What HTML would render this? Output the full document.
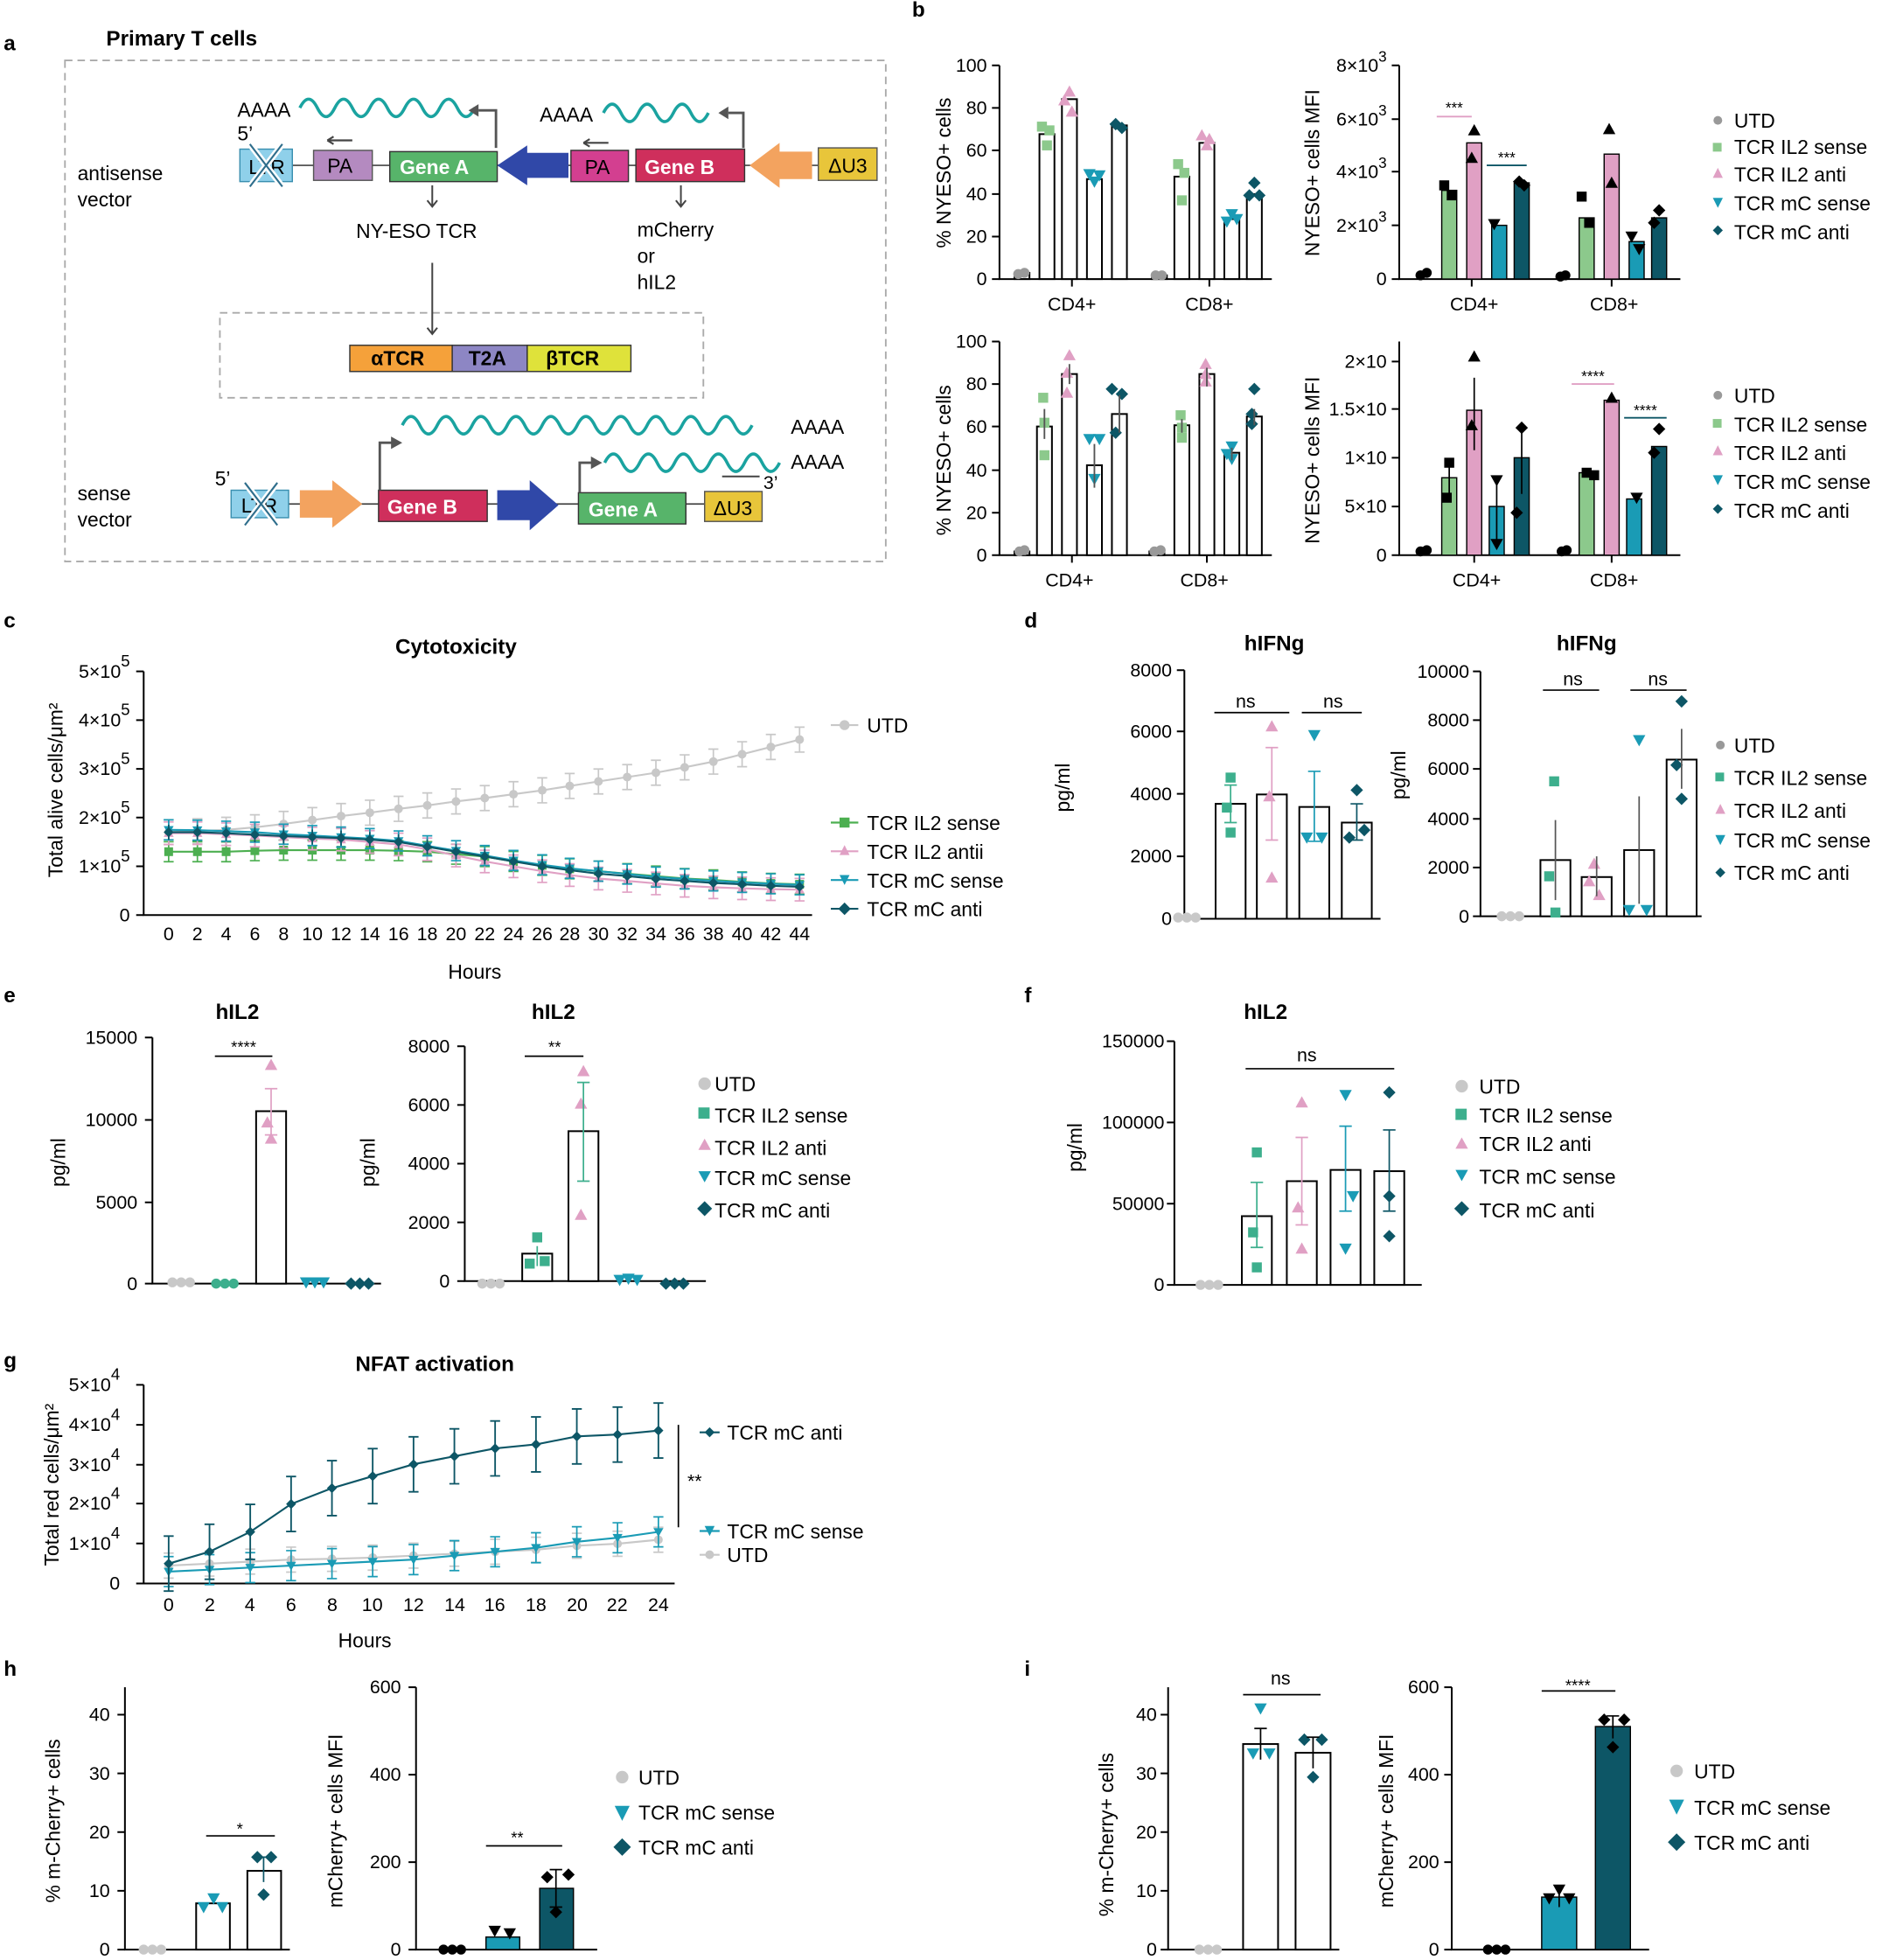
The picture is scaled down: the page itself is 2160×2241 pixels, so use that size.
<!DOCTYPE html>
<html><head><meta charset="utf-8"><style>
html,body{margin:0;padding:0;background:#fff}
svg{display:block}
text{font-family:"Liberation Sans",sans-serif;fill:#000}
.t{font-size:15px}
.tk{font-size:15px;text-anchor:end}
.L{font-size:16px}
.P{font-size:17px;font-weight:bold}
.H{font-size:17px;font-weight:bold;text-anchor:middle}
.ax{stroke:#000;stroke-width:1.4;fill:none}
.br{fill:#fff;stroke:#000;stroke-width:1.4}
.w{fill:#fff;font-size:16px;font-weight:bold}
</style></head><body>
<svg width="2160" height="2241" viewBox="0 0 1512 1568" xmlns="http://www.w3.org/2000/svg">
<defs>
<symbol id="c" overflow="visible"><circle cx="0" cy="0" r="4"/></symbol>
<symbol id="s" overflow="visible"><rect x="-4" y="-4" width="8" height="8"/></symbol>
<symbol id="u" overflow="visible"><polygon points="0,-5 5,4 -5,4"/></symbol>
<symbol id="d" overflow="visible"><polygon points="0,4 5,-5 -5,-5"/></symbol>
<symbol id="m" overflow="visible"><polygon points="0,-5 5,0 0,5 -5,0"/></symbol>
<marker id="mg" markerUnits="userSpaceOnUse" markerWidth="20" markerHeight="40" refX="10" refY="20" overflow="visible"><path d="M10,10V30M6,10H14M6,30H14" stroke="#c8c8c8" stroke-width="1.2"/><circle cx="10" cy="20" r="3.5" fill="#c8c8c8"/></marker>
<marker id="mgr" markerUnits="userSpaceOnUse" markerWidth="20" markerHeight="40" refX="10" refY="20" overflow="visible"><path d="M10,12V28M6,12H14M6,28H14" stroke="#4caf50" stroke-width="1.2"/><rect x="6.5" y="16.5" width="7" height="7" fill="#4caf50"/></marker>
<marker id="mpk" markerUnits="userSpaceOnUse" markerWidth="20" markerHeight="40" refX="10" refY="20" overflow="visible"><path d="M10,11V29M6,11H14M6,29H14" stroke="#e0a0c4" stroke-width="1.2"/><polygon points="10,16 14,23 6,23" fill="#e0a0c4"/></marker>
<marker id="mtl" markerUnits="userSpaceOnUse" markerWidth="20" markerHeight="40" refX="10" refY="20" overflow="visible"><path d="M10,12V28M6,12H14M6,28H14" stroke="#1a9bb5" stroke-width="1.2"/><polygon points="10,24 14,17 6,17" fill="#1a9bb5"/></marker>
<marker id="mdk" markerUnits="userSpaceOnUse" markerWidth="20" markerHeight="40" refX="10" refY="20" overflow="visible"><path d="M10,14V26" stroke="#0d5666" stroke-width="1.2"/><polygon points="10,16 14,20 10,24 6,20" fill="#0d5666"/></marker>
<marker id="mdk2" markerUnits="userSpaceOnUse" markerWidth="20" markerHeight="80" refX="10" refY="40" overflow="visible"><path d="M10,18V62M6,18H14M6,62H14" stroke="#0d5666" stroke-width="1.3"/><polygon points="10,36 14,40 10,44 6,40" fill="#0d5666"/></marker>
<marker id="mtl2" markerUnits="userSpaceOnUse" markerWidth="20" markerHeight="40" refX="10" refY="20" overflow="visible"><path d="M10,8V32M6,8H14M6,32H14" stroke="#1a9bb5" stroke-width="1.2"/><polygon points="10,24 14,17 6,17" fill="#1a9bb5"/></marker>
<marker id="mg2" markerUnits="userSpaceOnUse" markerWidth="20" markerHeight="40" refX="10" refY="20" overflow="visible"><path d="M10,10V30M6,10H14M6,30H14" stroke="#c8c8c8" stroke-width="1.2"/><circle cx="10" cy="20" r="3.5" fill="#c8c8c8"/></marker>
</defs>

<!-- ===== Panel a ===== -->
<text x="3" y="40" class="P">a</text>
<text x="85" y="36" class="P">Primary T cells</text>
<rect x="52" y="48" width="657" height="401" fill="none" stroke="#aaa" stroke-dasharray="6,4" stroke-width="1.3"/>
<rect x="176" y="250" width="387" height="68" fill="none" stroke="#aaa" stroke-dasharray="6,4" stroke-width="1.3"/>
<text x="62" y="144" class="L">antisense</text><text x="62" y="165" class="L">vector</text>
<line x1="234" y1="132" x2="655" y2="132" stroke="#444" stroke-width="1.2"/>
<rect x="192" y="119" width="42" height="26" fill="#8fd0ea" stroke="#3a8fb0"/>
<text x="199" y="139" class="L" fill="#333">LTR</text>
<path d="M200,115L226,149M226,115L200,149" stroke="#fff" stroke-width="5"/><path d="M200,115L226,149M226,115L200,149" stroke="#2f6e8c" stroke-width="1.5"/>
<rect x="251" y="120" width="47" height="24" fill="#b48ac0" stroke="#555"/><text x="262" y="138" class="L">PA</text>
<rect x="312" y="121" width="86" height="24" fill="#57b46a" stroke="#333"/><text x="320" y="139" class="w">Gene A</text>
<polygon points="398,132 422,116 422,122 455,122 455,142 422,142 422,148" fill="#3048a8"/>
<rect x="457" y="120" width="46" height="25" fill="#d33f90" stroke="#333"/><text x="468" y="139" class="L">PA</text>
<rect x="509" y="119" width="87" height="26" fill="#cf2f5c" stroke="#333"/><text x="516" y="139" class="w">Gene B</text>
<polygon points="600,132 624,114 624,121 650,121 650,143 624,143 624,150" fill="#f3a35f"/>
<rect x="655" y="118" width="47" height="26" fill="#e8c53a" stroke="#555"/><text x="663" y="138" class="L">ΔU3</text>
<text x="190" y="93" class="L" fill="#777">AAAA</text>
<path d="M240,86 q7,-14 14,0 t14,0 t14,0 t14,0 t14,0 t14,0 t14,0 t14,0 t14,0 t14,0" fill="none" stroke="#1aa3a0" stroke-width="2.5"/>
<path d="M383,88h14v30" fill="none" stroke="#555" stroke-width="2"/><polygon points="383,83 375,88 383,93" fill="#555"/>
<text x="432" y="97" class="L" fill="#777">AAAA</text>
<path d="M483,90 q7,-14 14,0 t14,0 t14,0 t14,0 t14,0 t14,0" fill="none" stroke="#1aa3a0" stroke-width="2.5"/>
<path d="M583,90h12v28" fill="none" stroke="#555" stroke-width="2"/><polygon points="583,85 575,90 583,95" fill="#555"/>
<text x="190" y="112" class="L" fill="#555">5’</text>
<path d="M262,112h20M262,112l5,-3M262,112l5,3" stroke="#444" stroke-width="1.5"/>
<path d="M467,114h20M467,114l5,-3M467,114l5,3" stroke="#444" stroke-width="1.5"/>
<path d="M346,148v16M342,160l4,5l4,-5" stroke="#444" fill="none" stroke-width="1.4"/>
<path d="M545,148v16M541,160l4,5l4,-5" stroke="#444" fill="none" stroke-width="1.4"/>
<text x="285" y="190" class="L">NY-ESO TCR</text>
<text x="510" y="189" class="L">mCherry</text><text x="510" y="210" class="L">or</text><text x="510" y="231" class="L">hIL2</text>
<path d="M346,210v56M342,262l4,5l4,-5" stroke="#444" fill="none" stroke-width="1.4"/>
<rect x="280" y="276" width="82" height="21" fill="#f5a13a" stroke="#333"/><text x="297" y="292" class="L" font-weight="bold">αTCR</text>
<rect x="362" y="276" width="60" height="21" fill="#8d86c4" stroke="#333"/><text x="375" y="292" class="L" font-weight="bold">T2A</text>
<rect x="422" y="276" width="83" height="21" fill="#dfe23a" stroke="#333"/><text x="437" y="292" class="L" font-weight="bold">βTCR</text>
<text x="62" y="400" class="L">sense</text><text x="62" y="421" class="L">vector</text>
<line x1="231" y1="403" x2="610" y2="403" stroke="#444" stroke-width="1.2"/>
<text x="172" y="388" class="L" fill="#555">5’</text>
<rect x="185" y="392" width="46" height="22" fill="#8fd0ea" stroke="#3a8fb0"/><text x="193" y="410" class="L" fill="#333">LTR</text>
<path d="M196,386L222,420M222,386L196,420" stroke="#fff" stroke-width="5"/><path d="M196,386L222,420M222,386L196,420" stroke="#2f6e8c" stroke-width="1.5"/>
<polygon points="240,392 266,392 266,384 290,403 266,422 266,414 240,414" fill="#f3a35f"/>
<rect x="303" y="392" width="87" height="25" fill="#cf2f5c" stroke="#333"/><text x="310" y="411" class="w">Gene B</text>
<polygon points="398,392 424,392 424,384 447,404 424,424 424,416 398,416" fill="#3048a8"/>
<rect x="463" y="394" width="86" height="25" fill="#57b46a" stroke="#333"/><text x="471" y="413" class="w">Gene A</text>
<rect x="564" y="393" width="46" height="24" fill="#e8c53a" stroke="#555"/><text x="571" y="412" class="L">ΔU3</text>
<path d="M304,392v-38h10" fill="none" stroke="#555" stroke-width="2"/><polygon points="313,349 322,354 313,359" fill="#555"/>
<path d="M322,340 q7,-14 14,0 t14,0 t14,0 t14,0 t14,0 t14,0 t14,0 t14,0 t14,0 t14,0 t14,0 t14,0 t14,0 t14,0 t14,0 t14,0 t14,0 t14,0 t14,0 t14,0" fill="none" stroke="#1aa3a0" stroke-width="2.5"/>
<text x="633" y="347" class="L" fill="#777">AAAA</text>
<path d="M464,394v-24h10" fill="none" stroke="#555" stroke-width="2"/><polygon points="473,365 482,370 473,375" fill="#555"/>
<path d="M484,370 q7,-14 14,0 t14,0 t14,0 t14,0 t14,0 t14,0 t14,0 t14,0 t14,0 t14,0" fill="none" stroke="#1aa3a0" stroke-width="2.5"/>
<text x="633" y="375" class="L" fill="#777">AAAA</text>
<line x1="578" y1="381" x2="608" y2="381" stroke="#444" stroke-width="1.4"/>
<text x="611" y="391" class="t" fill="#555">3’</text>

<!-- ===== Panel b ===== -->
<text x="730" y="13" class="P">b</text>
<g>
<path d="M800,52V223H1018" class="ax"/>
<path d="M794,223H800M794,189H800M794,155H800M794,120H800M794,86H800M794,52H800M858,223v6M968,223v6" class="ax"/>
<text x="790" y="228" class="tk">0</text><text x="790" y="194" class="tk">20</text><text x="790" y="160" class="tk">40</text><text x="790" y="125" class="tk">60</text><text x="790" y="91" class="tk">80</text><text x="790" y="57" class="tk">100</text>
<text transform="translate(761,138) rotate(-90)" class="L" text-anchor="middle">% NYESO+ cells</text>
<text x="858" y="248" class="t" text-anchor="middle">CD4+</text><text x="968" y="248" class="t" text-anchor="middle">CD8+</text>
<rect x="812" y="218" width="12" height="5" class="br"/>
<rect x="832" y="107" width="12" height="116" class="br"/>
<rect x="850" y="79" width="12" height="144" class="br"/>
<rect x="870" y="143" width="12" height="80" class="br"/>
<rect x="890" y="100" width="12" height="123" class="br"/>
<rect x="922" y="220" width="12" height="3" class="br"/>
<rect x="940" y="141" width="12" height="82" class="br"/>
<rect x="960" y="114" width="12" height="109" class="br"/>
<rect x="980" y="175" width="12" height="48" class="br"/>
<rect x="998" y="155" width="12" height="68" class="br"/>
<g fill="#999"><use href="#c" x="815" y="219"/><use href="#c" x="820" y="218"/><use href="#c" x="925" y="220"/><use href="#c" x="930" y="220"/></g>
<g fill="#8cc98c"><use href="#s" x="834" y="101"/><use href="#s" x="840" y="104"/><use href="#s" x="838" y="116"/><use href="#s" x="943" y="131"/><use href="#s" x="948" y="138"/><use href="#s" x="946" y="160"/></g>
<g fill="#e0a0c4"><use href="#u" x="856" y="73"/><use href="#u" x="852" y="80"/><use href="#u" x="858" y="89"/><use href="#u" x="962" y="108"/><use href="#u" x="968" y="111"/><use href="#u" x="966" y="116"/></g>
<g fill="#1a9bb5"><use href="#d" x="872" y="140"/><use href="#d" x="876" y="146"/><use href="#d" x="880" y="141"/><use href="#d" x="986" y="172"/><use href="#d" x="982" y="178"/><use href="#d" x="990" y="176"/></g>
<g fill="#0d5666"><use href="#m" x="893" y="99"/><use href="#m" x="898" y="102"/><use href="#m" x="1004" y="146"/><use href="#m" x="1000" y="156"/><use href="#m" x="1008" y="156"/></g>
</g>
<g>
<path d="M1120,52V223H1345" class="ax"/>
<path d="M1114,223H1120M1114,180H1120M1114,137H1120M1114,95H1120M1114,52H1120M1178,223v6M1290,223v6" class="ax"/>
<text x="1110" y="228" class="tk">0</text><text x="1110" y="185" class="tk">2×10<tspan dy="-8" font-size="12">3</tspan></text><text x="1110" y="142" class="tk">4×10<tspan dy="-8" font-size="12">3</tspan></text><text x="1110" y="100" class="tk">6×10<tspan dy="-8" font-size="12">3</tspan></text><text x="1110" y="57" class="tk">8×10<tspan dy="-8" font-size="12">3</tspan></text>
<text transform="translate(1056,138) rotate(-90)" class="L" text-anchor="middle">NYESO+ cells MFI</text>
<text x="1180" y="248" class="t" text-anchor="middle">CD4+</text><text x="1292" y="248" class="t" text-anchor="middle">CD8+</text>
<rect x="1154" y="152" width="12" height="71" fill="#8cc98c" stroke="#000"/>
<rect x="1174" y="114" width="12" height="109" fill="#e0a0c4" stroke="#000"/>
<rect x="1194" y="180" width="12" height="43" fill="#1a9bb5" stroke="#000"/>
<rect x="1212" y="146" width="12" height="77" fill="#0d5666" stroke="#000"/>
<rect x="1264" y="174" width="12" height="49" fill="#8cc98c" stroke="#000"/>
<rect x="1284" y="123" width="12" height="100" fill="#e0a0c4" stroke="#000"/>
<rect x="1304" y="193" width="12" height="30" fill="#1a9bb5" stroke="#000"/>
<rect x="1322" y="174" width="12" height="49" fill="#0d5666" stroke="#000"/>
<g fill="#000"><use href="#c" x="1137" y="220"/><use href="#c" x="1142" y="218"/><use href="#c" x="1249" y="221"/><use href="#c" x="1253" y="220"/>
<use href="#s" x="1156" y="148"/><use href="#s" x="1162" y="156"/><use href="#u" x="1180" y="104"/><use href="#u" x="1178" y="126"/><use href="#d" x="1196" y="180"/><use href="#m" x="1216" y="145"/><use href="#m" x="1220" y="148"/>
<use href="#s" x="1266" y="157"/><use href="#s" x="1272" y="178"/><use href="#u" x="1288" y="103"/><use href="#u" x="1290" y="146"/><use href="#d" x="1306" y="190"/><use href="#d" x="1312" y="200"/><use href="#m" x="1328" y="168"/><use href="#m" x="1324" y="178"/></g>
<path d="M1150,93H1178" stroke="#e0a0c4" stroke-width="1.3"/><text x="1164" y="90" font-size="12" fill="#e0a0c4" text-anchor="middle">***</text>
<path d="M1190,132H1222" stroke="#0d5666" stroke-width="1.3"/><text x="1206" y="130" font-size="12" fill="#0d5666" text-anchor="middle">***</text>
</g>
<g class="L"><circle cx="1375" cy="96" r="3.5" fill="#999"/><text x="1388" y="102">UTD</text>
<rect x="1371" y="114" width="7" height="7" fill="#8cc98c"/><text x="1388" y="123">TCR IL2 sense</text>
<polygon points="1375,134 1379,142 1371,142" fill="#e0a0c4"/><text x="1388" y="145">TCR IL2 anti</text>
<polygon points="1375,166 1379,158 1371,158" fill="#1a9bb5"/><text x="1388" y="168">TCR mC sense</text>
<polygon points="1375,180 1379,184 1375,188 1371,184" fill="#0d5666"/><text x="1388" y="191">TCR mC anti</text></g>
<g>
<path d="M800,273V444H1018" class="ax"/>
<path d="M794,444H800M794,410H800M794,376H800M794,341H800M794,307H800M794,273H800M858,444v6M966,444v6" class="ax"/>
<text x="790" y="449" class="tk">0</text><text x="790" y="415" class="tk">20</text><text x="790" y="381" class="tk">40</text><text x="790" y="346" class="tk">60</text><text x="790" y="312" class="tk">80</text><text x="790" y="278" class="tk">100</text>
<text transform="translate(761,368) rotate(-90)" class="L" text-anchor="middle">% NYESO+ cells</text>
<text x="856" y="469" class="t" text-anchor="middle">CD4+</text><text x="964" y="469" class="t" text-anchor="middle">CD8+</text>
<rect x="812" y="441" width="12" height="3" class="br"/>
<rect x="830" y="341" width="12" height="103" class="br"/>
<rect x="850" y="299" width="12" height="145" class="br"/>
<rect x="870" y="372" width="12" height="72" class="br"/>
<rect x="890" y="331" width="12" height="113" class="br"/>
<rect x="920" y="441" width="12" height="3" class="br"/>
<rect x="940" y="340" width="12" height="104" class="br"/>
<rect x="960" y="299" width="12" height="145" class="br"/>
<rect x="980" y="362" width="12" height="82" class="br"/>
<rect x="998" y="333" width="12" height="111" class="br"/>
<g fill="#999"><use href="#c" x="816" y="441"/><use href="#c" x="820" y="440"/><use href="#c" x="924" y="441"/><use href="#c" x="929" y="440"/></g>
<g fill="#8cc98c"><use href="#s" x="835" y="318"/><use href="#s" x="836" y="338"/><use href="#s" x="836" y="364"/><use href="#s" x="945" y="332"/><use href="#s" x="946" y="342"/><use href="#s" x="946" y="350"/></g>
<g fill="#e0a0c4"><use href="#u" x="856" y="284"/><use href="#u" x="854" y="298"/><use href="#u" x="854" y="314"/><use href="#u" x="965" y="291"/><use href="#u" x="965" y="299"/><use href="#u" x="965" y="305"/></g>
<g fill="#1a9bb5"><use href="#d" x="872" y="352"/><use href="#d" x="880" y="352"/><use href="#d" x="876" y="384"/><use href="#d" x="982" y="364"/><use href="#d" x="986" y="368"/><use href="#d" x="986" y="358"/></g>
<g fill="#0d5666"><use href="#m" x="890" y="311"/><use href="#m" x="898" y="315"/><use href="#m" x="893" y="346"/><use href="#m" x="1004" y="311"/><use href="#m" x="1002" y="331"/><use href="#m" x="1002" y="339"/></g>
<path d="M836,327V351M856,291V307M876,355V390M896,316V346M946,335V346M966,294V309M986,358V368M1004,327V340" stroke="#555" stroke-width="1.3"/>
</g>
<g>
<path d="M1120,273V444H1345" class="ax"/>
<path d="M1114,444H1120M1114,405H1120M1114,366H1120M1114,327H1120M1114,289H1120M1180,444v6M1290,444v6" class="ax"/>
<text x="1110" y="449" class="tk">0</text><text x="1110" y="410" class="tk">5×10</text><text x="1110" y="371" class="tk">1×10</text><text x="1110" y="332" class="tk">1.5×10</text><text x="1110" y="294" class="tk">2×10</text>
<text transform="translate(1056,368) rotate(-90)" class="L" text-anchor="middle">NYESO+ cells MFI</text>
<text x="1182" y="469" class="t" text-anchor="middle">CD4+</text><text x="1292" y="469" class="t" text-anchor="middle">CD8+</text>
<rect x="1154" y="382" width="12" height="62" fill="#8cc98c" stroke="#000"/>
<rect x="1174" y="328" width="12" height="116" fill="#e0a0c4" stroke="#000"/>
<rect x="1192" y="405" width="12" height="39" fill="#1a9bb5" stroke="#000"/>
<rect x="1212" y="366" width="12" height="78" fill="#0d5666" stroke="#000"/>
<rect x="1264" y="378" width="12" height="66" fill="#8cc98c" stroke="#000"/>
<rect x="1284" y="320" width="12" height="124" fill="#e0a0c4" stroke="#000"/>
<rect x="1302" y="399" width="12" height="45" fill="#1a9bb5" stroke="#000"/>
<rect x="1322" y="357" width="12" height="87" fill="#0d5666" stroke="#000"/>
<g fill="#000"><use href="#c" x="1137" y="441"/><use href="#c" x="1142" y="440"/><use href="#c" x="1250" y="441"/><use href="#c" x="1254" y="440"/>
<use href="#s" x="1160" y="370"/><use href="#s" x="1158" y="398"/><use href="#u" x="1180" y="285"/><use href="#u" x="1178" y="340"/><use href="#d" x="1198" y="385"/><use href="#d" x="1198" y="436"/><use href="#m" x="1218" y="342"/><use href="#m" x="1214" y="410"/>
<use href="#s" x="1270" y="378"/><use href="#s" x="1276" y="380"/><use href="#u" x="1290" y="318"/><use href="#d" x="1310" y="399"/><use href="#m" x="1328" y="343"/><use href="#m" x="1324" y="362"/></g>
<path d="M1180,302V360M1218,345V395M1198,388V432M1160,370V395" stroke="#000" stroke-width="1.2"/>
<path d="M1258,307H1292" stroke="#e0a0c4" stroke-width="1.3"/><text x="1275" y="305" font-size="12" fill="#e0a0c4" text-anchor="middle">****</text>
<path d="M1300,334H1334" stroke="#0d5666" stroke-width="1.3"/><text x="1317" y="332" font-size="12" fill="#0d5666" text-anchor="middle">****</text>
</g>
<g class="L"><circle cx="1375" cy="316" r="3.5" fill="#999"/><text x="1388" y="322">UTD</text>
<rect x="1371" y="335" width="7" height="7" fill="#8cc98c"/><text x="1388" y="345">TCR IL2 sense</text>
<polygon points="1375,356 1379,364 1371,364" fill="#e0a0c4"/><text x="1388" y="368">TCR IL2 anti</text>
<polygon points="1375,388 1379,380 1371,380" fill="#1a9bb5"/><text x="1388" y="391">TCR mC sense</text>
<polygon points="1375,403 1379,407 1375,411 1371,407" fill="#0d5666"/><text x="1388" y="414">TCR mC anti</text></g>

<!-- ===== Panel c ===== -->
<text x="3" y="502" class="P">c</text>
<text x="365" y="523" class="H">Cytotoxicity</text>
<path d="M115,537V732H650" class="ax"/>
<path d="M109,732H115M109,693H115M109,654H115M109,615H115M109,576H115M109,537H115" class="ax"/>
<text x="104" y="737" class="tk">0</text>
<text x="104" y="698" class="tk">1×10<tspan dy="-9" font-size="13">5</tspan></text>
<text x="104" y="659" class="tk">2×10<tspan dy="-9" font-size="13">5</tspan></text>
<text x="104" y="620" class="tk">3×10<tspan dy="-9" font-size="13">5</tspan></text>
<text x="104" y="581" class="tk">4×10<tspan dy="-9" font-size="13">5</tspan></text>
<text x="104" y="542" class="tk">5×10<tspan dy="-9" font-size="13">5</tspan></text>
<text transform="translate(50,632) rotate(-90)" class="L" text-anchor="middle">Total alive cells/μm²</text>
<g class="t" text-anchor="middle"><text x="135" y="752">0</text><text x="158" y="752">2</text><text x="181" y="752">4</text><text x="204" y="752">6</text><text x="227" y="752">8</text><text x="250" y="752">10</text><text x="273" y="752">12</text><text x="296" y="752">14</text><text x="319" y="752">16</text><text x="342" y="752">18</text><text x="365" y="752">20</text><text x="388" y="752">22</text><text x="411" y="752">24</text><text x="434" y="752">26</text><text x="456" y="752">28</text><text x="479" y="752">30</text><text x="502" y="752">32</text><text x="525" y="752">34</text><text x="548" y="752">36</text><text x="571" y="752">38</text><text x="594" y="752">40</text><text x="617" y="752">42</text><text x="640" y="752">44</text></g>
<text x="380" y="783" class="L" text-anchor="middle">Hours</text>
<polyline fill="none" stroke="#c8c8c8" stroke-width="1.5" marker-start="url(#mg)" marker-mid="url(#mg)" marker-end="url(#mg)" points="135,665.7 158,664.9 181,663.8 204,661.8 227,659.1 250,656 273,652.8 296,650.1 319,647 342,644.3 365,641.1 388,638.4 411,635.3 434,632.2 456,628.7 479,625.1 502,621.6 525,618.1 548,613.8 571,609.2 594,603.3 617,597.5 640,591.6"/>
<polyline fill="none" stroke="#4caf50" stroke-width="1.5" marker-start="url(#mgr)" marker-mid="url(#mgr)" marker-end="url(#mgr)" points="135,681.3 158,681.3 181,681.3 204,680.5 227,680.1 250,680.1 273,680.1 296,680.1 319,680.5 342,681.3 365,683.3 388,685.2 411,689.1 434,692.2 456,695 479,696.9 502,698.9 525,700.8 548,702.8 571,703.9 594,705.5 617,706.7 640,707.4"/>
<polyline fill="none" stroke="#e0a0c4" stroke-width="1.5" marker-start="url(#mpk)" marker-mid="url(#mpk)" marker-end="url(#mpk)" points="135,666.5 158,666.5 181,667.3 204,668.4 227,669.6 250,670.8 273,671.6 296,673.5 319,675.5 342,679.4 365,684.4 388,689.1 411,693 434,696.9 456,700 479,702.8 502,704.7 525,706.7 548,708.6 571,709.8 594,710.6 617,711.3 640,711.7"/>
<polyline fill="none" stroke="#1a9bb5" stroke-width="1.5" marker-start="url(#mtl)" marker-mid="url(#mtl)" marker-end="url(#mtl)" points="135,663.8 158,664.1 181,664.9 204,665.7 227,667.3 250,668.4 273,669.6 296,670.8 319,672.7 342,676.6 365,680.5 388,684.4 411,688.3 434,691.8 456,694.6 479,696.9 502,699.2 525,701.6 548,703.1 571,704.7 594,705.9 617,707 640,707.8"/>
<polyline fill="none" stroke="#0d5666" stroke-width="1.5" marker-start="url(#mdk)" marker-mid="url(#mdk)" marker-end="url(#mdk)" points="135,665.7 158,665.7 181,666.5 204,667.7 227,668.8 250,669.6 273,670.4 296,671.6 319,673.5 342,677.4 365,681.3 388,685.2 411,689.1 434,693 456,696.1 479,698.9 502,700.8 525,703.1 548,704.7 571,706.3 594,707.4 617,708.6 640,709.4"/>
<g class="L">
<path d="M665,580h22" stroke="#c8c8c8" stroke-width="1.5"/><circle cx="676" cy="580" r="4" fill="#c8c8c8"/><text x="694" y="586">UTD</text>
<path d="M665,658h22" stroke="#4caf50" stroke-width="1.5"/><rect x="672" y="654" width="8" height="8" fill="#4caf50"/><text x="694" y="664">TCR IL2 sense</text>
<path d="M665,681h22" stroke="#e0a0c4" stroke-width="1.5"/><polygon points="676,676 680,684 672,684" fill="#e0a0c4"/><text x="694" y="687">TCR IL2 antii</text>
<path d="M665,704h22" stroke="#1a9bb5" stroke-width="1.5"/><polygon points="676,708 680,700 672,700" fill="#1a9bb5"/><text x="694" y="710">TCR mC sense</text>
<path d="M665,727h22" stroke="#0d5666" stroke-width="1.5"/><polygon points="676,722 681,727 676,732 671,727" fill="#0d5666"/><text x="694" y="733">TCR mC anti</text></g>

<!-- ===== Panel d ===== -->
<text x="820" y="502" class="P">d</text>
<text x="1020" y="520" class="H">hIFNg</text>
<path d="M948,536V735H1105" class="ax"/>
<path d="M942,735H948M942,685H948M942,635H948M942,585H948M942,536H948" class="ax"/>
<text x="938" y="740" class="tk">0</text><text x="938" y="690" class="tk">2000</text><text x="938" y="640" class="tk">4000</text><text x="938" y="590" class="tk">6000</text><text x="938" y="541" class="tk">8000</text>
<text transform="translate(856,630) rotate(-90)" class="L" text-anchor="middle">pg/ml</text>
<rect x="973" y="643" width="24" height="92" class="br"/>
<rect x="1006" y="635.5" width="24" height="99.5" class="br"/>
<rect x="1040" y="645.5" width="24" height="89.5" class="br"/>
<rect x="1074" y="658" width="24" height="77" class="br"/>
<g fill="#c8c8c8"><use href="#c" x="943" y="734"/><use href="#c" x="950" y="734"/><use href="#c" x="957" y="734"/></g>
<g fill="#3daf8d"><use href="#s" x="985" y="622"/><use href="#s" x="982" y="646"/><use href="#s" x="985" y="666"/></g>
<g fill="#e0a0c4"><use href="#u" x="1018" y="581"/><use href="#u" x="1016" y="637"/><use href="#u" x="1018" y="702"/></g>
<g fill="#1a9bb5"><use href="#d" x="1052" y="589"/><use href="#d" x="1046" y="671"/><use href="#d" x="1058" y="671"/></g>
<g fill="#0d5666"><use href="#m" x="1086" y="632"/><use href="#m" x="1080" y="670"/><use href="#m" x="1092" y="664"/></g>
<path d="M985,628V658M980,628H990M980,658H990" stroke="#3daf8d" stroke-width="1.2"/>
<path d="M1018,598V672M1013,598H1023M1013,672H1023" stroke="#e0a0c4" stroke-width="1.2"/>
<path d="M1052,617V673M1047,617H1057M1047,673H1057" stroke="#1a9bb5" stroke-width="1.2"/>
<path d="M1086,643V672M1081,643H1091M1081,672H1091" stroke="#0d5666" stroke-width="1.2"/>
<path d="M972,570H1032" stroke="#000" stroke-width="1.2"/><text x="997" y="566" class="t" fill="#e0a0c4" text-anchor="middle">ns</text>
<path d="M1042,570H1090" stroke="#000" stroke-width="1.2"/><text x="1067" y="566" class="t" fill="#0d5666" text-anchor="middle">ns</text>
<text x="1270" y="520" class="H">hIFNg</text>
<path d="M1185,537V733H1362" class="ax"/>
<path d="M1179,733H1185M1179,694H1185M1179,655H1185M1179,615H1185M1179,576H1185M1179,537H1185" class="ax"/>
<text x="1176" y="738" class="tk">0</text><text x="1176" y="699" class="tk">2000</text><text x="1176" y="660" class="tk">4000</text><text x="1176" y="620" class="tk">6000</text><text x="1176" y="581" class="tk">8000</text><text x="1176" y="542" class="tk">10000</text>
<text transform="translate(1125,620) rotate(-90)" class="L" text-anchor="middle">pg/ml</text>
<rect x="1233" y="688" width="24" height="45" class="br"/>
<rect x="1266" y="701.6" width="24" height="31.4" class="br"/>
<rect x="1300" y="680" width="24" height="53" class="br"/>
<rect x="1334" y="607.6" width="24" height="125.4" class="br"/>
<g fill="#c8c8c8"><use href="#c" x="1202" y="733"/><use href="#c" x="1209" y="733"/><use href="#c" x="1216" y="733"/></g>
<g fill="#3daf8d"><use href="#s" x="1244" y="625"/><use href="#s" x="1240" y="701"/><use href="#s" x="1245" y="730"/></g>
<g fill="#e0a0c4"><use href="#u" x="1276" y="691"/><use href="#u" x="1272" y="705"/><use href="#u" x="1280" y="716"/></g>
<g fill="#1a9bb5"><use href="#d" x="1312" y="593"/><use href="#d" x="1304" y="729"/><use href="#d" x="1318" y="729"/></g>
<g fill="#0d5666"><use href="#m" x="1346" y="561"/><use href="#m" x="1342" y="612"/><use href="#m" x="1346" y="639"/></g>
<path d="M1245,656V720M1278,685V717M1312,637V723M1346,583V631" stroke="#555" stroke-width="1.2"/>
<path d="M1235,552H1280" stroke="#000" stroke-width="1.2"/><text x="1259" y="548" class="t" fill="#e0a0c4" text-anchor="middle">ns</text>
<path d="M1305,552H1350" stroke="#000" stroke-width="1.2"/><text x="1327" y="548" class="t" fill="#0d5666" text-anchor="middle">ns</text>
<g class="L"><circle cx="1377" cy="596" r="3.5" fill="#999"/><text x="1388" y="602">UTD</text>
<rect x="1373" y="618" width="7" height="7" fill="#3daf8d"/><text x="1388" y="628">TCR IL2 sense</text>
<polygon points="1377,643 1381,651 1373,651" fill="#e0a0c4"/><text x="1388" y="654">TCR IL2 anti</text>
<polygon points="1377,676 1381,668 1373,668" fill="#1a9bb5"/><text x="1388" y="678">TCR mC sense</text>
<polygon points="1377,694 1381,698 1377,702 1373,698" fill="#0d5666"/><text x="1388" y="704">TCR mC anti</text></g>

<!-- ===== Panel e ===== -->
<text x="3" y="802" class="P">e</text>
<text x="190" y="815" class="H">hIL2</text>
<path d="M122,830V1027H305" class="ax"/>
<path d="M116,1027H122M116,962H122M116,896H122M116,830H122" class="ax"/>
<text x="110" y="1032" class="tk">0</text><text x="110" y="967" class="tk">5000</text><text x="110" y="901" class="tk">10000</text><text x="110" y="835" class="tk">15000</text>
<text transform="translate(52,930) rotate(-90)" class="L" text-anchor="middle">pg/ml</text>
<rect x="205" y="889" width="24" height="138" class="br"/>
<g fill="#c8c8c8"><use href="#c" x="138" y="1026"/><use href="#c" x="145" y="1026"/><use href="#c" x="152" y="1026"/></g>
<g fill="#3daf8d"><use href="#c" x="173" y="1027"/><use href="#c" x="180" y="1027"/><use href="#c" x="187" y="1027"/></g>
<g fill="#1a9bb5"><use href="#d" x="245" y="1027"/><use href="#d" x="252" y="1027"/><use href="#d" x="259" y="1027"/></g>
<g fill="#0d5666"><use href="#m" x="281" y="1027"/><use href="#m" x="288" y="1027"/><use href="#m" x="295" y="1027"/></g>
<g fill="#e0a0c4"><use href="#u" x="217" y="852"/><use href="#u" x="214" y="898"/><use href="#u" x="217" y="911"/></g>
<path d="M217,871V908M212,871H222M212,908H222" stroke="#e0a0c4" stroke-width="1.2"/>
<path d="M172,845H218" stroke="#000" stroke-width="1.2"/><text x="195" y="842" font-size="13" fill="#e0a0c4" text-anchor="middle">****</text>
<text x="443" y="815" class="H">hIL2</text>
<path d="M372,837V1025H565" class="ax"/>
<path d="M366,1025H372M366,978H372M366,931H372M366,884H372M366,837H372" class="ax"/>
<text x="360" y="1030" class="tk">0</text><text x="360" y="983" class="tk">2000</text><text x="360" y="936" class="tk">4000</text><text x="360" y="889" class="tk">6000</text><text x="360" y="842" class="tk">8000</text>
<text transform="translate(300,930) rotate(-90)" class="L" text-anchor="middle">pg/ml</text>
<rect x="418" y="1003" width="24" height="22" class="br"/>
<rect x="455" y="905" width="24" height="120" class="br"/>
<g fill="#c8c8c8"><use href="#c" x="386" y="1027"/><use href="#c" x="393" y="1027"/><use href="#c" x="400" y="1027"/></g>
<g fill="#3daf8d"><use href="#s" x="430" y="990"/><use href="#s" x="424" y="1011"/><use href="#s" x="436" y="1009"/></g>
<g fill="#e0a0c4"><use href="#u" x="467" y="857"/><use href="#u" x="465" y="883"/><use href="#u" x="465" y="972"/></g>
<g fill="#1a9bb5"><use href="#d" x="496" y="1025"/><use href="#d" x="503" y="1024"/><use href="#d" x="510" y="1025"/></g>
<g fill="#0d5666"><use href="#m" x="533" y="1027"/><use href="#m" x="540" y="1027"/><use href="#m" x="547" y="1027"/></g>
<path d="M430,997V1013M467,866V945M462,866H472M462,945H472" stroke="#3daf8d" stroke-width="1.2"/>
<path d="M420,845H467" stroke="#000" stroke-width="1.2"/><text x="444" y="842" font-size="13" fill="#e0a0c4" text-anchor="middle">**</text>
<g class="L"><circle cx="564" cy="867" r="5" fill="#c8c8c8"/><text x="572" y="873">UTD</text>
<rect x="559" y="886" width="9" height="9" fill="#3daf8d"/><text x="572" y="898">TCR IL2 sense</text>
<polygon points="564,911 569,920 559,920" fill="#e0a0c4"/><text x="572" y="924">TCR IL2 anti</text>
<polygon points="564,946 569,937 559,937" fill="#1a9bb5"/><text x="572" y="948">TCR mC sense</text>
<polygon points="564,961 570,967 564,973 558,967" fill="#0d5666"/><text x="572" y="974">TCR mC anti</text></g>

<!-- ===== Panel f ===== -->
<text x="820" y="802" class="P">f</text>
<text x="1013" y="815" class="H">hIL2</text>
<path d="M940,833V1028H1138" class="ax"/>
<path d="M934,1028H940M934,963H940M934,898H940M934,833H940" class="ax"/>
<text x="932" y="1033" class="tk">0</text><text x="932" y="968" class="tk">50000</text><text x="932" y="903" class="tk">100000</text><text x="932" y="838" class="tk">150000</text>
<text transform="translate(866,918) rotate(-90)" class="L" text-anchor="middle">pg/ml</text>
<rect x="994" y="973" width="24" height="55" class="br"/>
<rect x="1030" y="945" width="24" height="83" class="br"/>
<rect x="1065" y="936" width="24" height="92" class="br"/>
<rect x="1100" y="937" width="24" height="91" class="br"/>
<g fill="#c8c8c8"><use href="#c" x="961" y="1028"/><use href="#c" x="968" y="1028"/><use href="#c" x="975" y="1028"/></g>
<g fill="#3daf8d"><use href="#s" x="1006" y="922"/><use href="#s" x="1003" y="986"/><use href="#s" x="1006" y="1014"/></g>
<g fill="#e0a0c4"><use href="#u" x="1042" y="882"/><use href="#u" x="1039" y="966"/><use href="#u" x="1042" y="999"/></g>
<g fill="#1a9bb5"><use href="#d" x="1077" y="877"/><use href="#d" x="1083" y="958"/><use href="#d" x="1077" y="1000"/></g>
<g fill="#0d5666"><use href="#m" x="1112" y="874"/><use href="#m" x="1112" y="957"/><use href="#m" x="1112" y="989"/></g>
<path d="M1006,946V998M1001,946H1011M1001,998H1011" stroke="#3daf8d" stroke-width="1.2"/>
<path d="M1042,910V980M1037,910H1047M1037,980H1047" stroke="#e0a0c4" stroke-width="1.2"/>
<path d="M1077,901V969M1072,901H1082M1072,969H1082" stroke="#1a9bb5" stroke-width="1.2"/>
<path d="M1112,904V969M1107,904H1117M1107,969H1117" stroke="#0d5666" stroke-width="1.2"/>
<path d="M997,855H1116" stroke="#000" stroke-width="1.2"/><text x="1046" y="849" class="t" text-anchor="middle">ns</text>
<g class="L"><circle cx="1170" cy="869" r="5" fill="#c8c8c8"/><text x="1184" y="875">UTD</text>
<rect x="1165" y="887" width="9" height="9" fill="#3daf8d"/><text x="1184" y="898">TCR IL2 sense</text>
<polygon points="1170,910 1175,919 1165,919" fill="#e0a0c4"/><text x="1184" y="921">TCR IL2 anti</text>
<polygon points="1170,945 1175,936 1165,936" fill="#1a9bb5"/><text x="1184" y="947">TCR mC sense</text>
<polygon points="1170,961 1176,967 1170,973 1164,967" fill="#0d5666"/><text x="1184" y="974">TCR mC anti</text></g>

<!-- ===== Panel g ===== -->
<text x="3" y="1094" class="P">g</text>
<text x="348" y="1097" class="H">NFAT activation</text>
<path d="M115,1108V1267H540" class="ax"/>
<path d="M109,1267H115M109,1235H115M109,1203H115M109,1172H115M109,1140H115M109,1108H115" class="ax"/>
<text x="96" y="1272" class="tk">0</text>
<text x="96" y="1240" class="tk">1×10<tspan dy="-9" font-size="13">4</tspan></text>
<text x="96" y="1208" class="tk">2×10<tspan dy="-9" font-size="13">4</tspan></text>
<text x="96" y="1177" class="tk">3×10<tspan dy="-9" font-size="13">4</tspan></text>
<text x="96" y="1145" class="tk">4×10<tspan dy="-9" font-size="13">4</tspan></text>
<text x="96" y="1113" class="tk">5×10<tspan dy="-9" font-size="13">4</tspan></text>
<text transform="translate(47,1188) rotate(-90)" class="L" text-anchor="middle">Total red cells/μm²</text>
<g class="t" text-anchor="middle"><text x="135" y="1289">0</text><text x="168" y="1289">2</text><text x="200" y="1289">4</text><text x="233" y="1289">6</text><text x="266" y="1289">8</text><text x="298" y="1289">10</text><text x="331" y="1289">12</text><text x="364" y="1289">14</text><text x="396" y="1289">16</text><text x="429" y="1289">18</text><text x="462" y="1289">20</text><text x="494" y="1289">22</text><text x="527" y="1289">24</text></g>
<text x="292" y="1318" class="L" text-anchor="middle">Hours</text>
<polyline fill="none" stroke="#c8c8c8" stroke-width="1.5" marker-start="url(#mg2)" marker-mid="url(#mg2)" marker-end="url(#mg2)" points="135,1252.7 167.7,1251.1 200.3,1249.5 233,1247.9 265.7,1247.3 298.3,1246.3 331,1244.7 363.7,1243.2 396.3,1241.6 429,1240 461.7,1236.8 494.3,1235.2 527,1232"/>
<polyline fill="none" stroke="#1a9bb5" stroke-width="1.5" marker-start="url(#mtl2)" marker-mid="url(#mtl2)" marker-end="url(#mtl2)" points="135,1257.5 167.7,1255.9 200.3,1254.3 233,1252.7 265.7,1251.1 298.3,1249.5 331,1247.9 363.7,1244.7 396.3,1241.6 429,1238.4 461.7,1233.6 494.3,1230.4 527,1225.7"/>
<polyline fill="none" stroke="#0d5666" stroke-width="1.5" marker-start="url(#mdk2)" marker-mid="url(#mdk2)" marker-end="url(#mdk2)" points="135,1251.1 167.7,1241.6 200.3,1225.7 233,1203.4 265.7,1190.7 298.3,1181.1 331,1171.6 363.7,1165.2 396.3,1158.9 429,1155.7 461.7,1149.3 494.3,1147.8 527,1144.6"/>
<path d="M543,1140V1222" stroke="#000" stroke-width="1.2"/><text x="556" y="1190" class="t" fill="#0d5666" text-anchor="middle">**</text>
<g class="L">
<path d="M560,1146h16" stroke="#0d5666" stroke-width="1.5"/><polygon points="568,1142 572,1146 568,1150 564,1146" fill="#0d5666"/><text x="582" y="1152">TCR mC anti</text>
<path d="M560,1225h16" stroke="#1a9bb5" stroke-width="1.5"/><polygon points="568,1229 572,1221 564,1221" fill="#1a9bb5"/><text x="582" y="1231">TCR mC sense</text>
<path d="M560,1244h16" stroke="#c8c8c8" stroke-width="1.5"/><circle cx="568" cy="1244" r="3.5" fill="#c8c8c8"/><text x="582" y="1250">UTD</text></g>

<!-- ===== Panel h ===== -->
<text x="3" y="1341" class="P">h</text>
<path d="M100,1350V1560H232" class="ax"/>
<path d="M94,1560H100M94,1513H100M94,1466H100M94,1419H100M94,1372H100" class="ax"/>
<text x="88" y="1565" class="tk">0</text><text x="88" y="1518" class="tk">10</text><text x="88" y="1471" class="tk">20</text><text x="88" y="1424" class="tk">30</text><text x="88" y="1377" class="tk">40</text>
<text transform="translate(48,1457) rotate(-90)" class="L" text-anchor="middle">% m-Cherry+ cells</text>
<rect x="157" y="1523" width="27" height="37" class="br"/>
<rect x="198" y="1497" width="27" height="63" class="br"/>
<g fill="#c8c8c8"><use href="#c" x="115" y="1560"/><use href="#c" x="122" y="1560"/><use href="#c" x="129" y="1560"/></g>
<g fill="#1a9bb5"><use href="#d" x="163" y="1527"/><use href="#d" x="171" y="1520"/><use href="#d" x="178" y="1527"/></g>
<g fill="#0d5666"><use href="#m" x="206" y="1486"/><use href="#m" x="217" y="1486"/><use href="#m" x="211" y="1516"/></g>
<path d="M211,1486V1506M206,1486H216" stroke="#0d5666" stroke-width="1.2"/>
<path d="M165,1469H220" stroke="#000" stroke-width="1.2"/><text x="192" y="1468" font-size="13" fill="#0d5666" text-anchor="middle">*</text>
<path d="M333,1350V1560H478" class="ax"/>
<path d="M327,1560H333M327,1490H333M327,1420H333M327,1350H333" class="ax"/>
<text x="321" y="1565" class="tk">0</text><text x="321" y="1495" class="tk">200</text><text x="321" y="1425" class="tk">400</text><text x="321" y="1355" class="tk">600</text>
<text transform="translate(274,1457) rotate(-90)" class="L" text-anchor="middle">mCherry+ cells MFI</text>
<rect x="389" y="1550" width="27" height="10" fill="#1a9bb5" stroke="#000"/>
<rect x="432" y="1511" width="27" height="49" fill="#0d5666" stroke="#000"/>
<g fill="#000"><use href="#c" x="355" y="1560"/><use href="#c" x="362" y="1560"/><use href="#c" x="369" y="1560"/>
<use href="#d" x="396" y="1546"/><use href="#d" x="408" y="1548"/><use href="#m" x="438" y="1502"/><use href="#m" x="455" y="1500"/><use href="#m" x="445" y="1530"/></g>
<path d="M445,1496V1526M440,1496H450M440,1526H450" stroke="#000" stroke-width="1.2"/>
<path d="M389,1477H450" stroke="#000" stroke-width="1.2"/><text x="414" y="1475" font-size="13" fill="#0d5666" text-anchor="middle">**</text>
<g class="L"><circle cx="498" cy="1422" r="5" fill="#c8c8c8"/><text x="511" y="1428">UTD</text>
<polygon points="498,1457 504,1445 492,1445" fill="#1a9bb5"/><text x="511" y="1456">TCR mC sense</text>
<polygon points="498,1471 505,1478 498,1485 491,1478" fill="#0d5666"/><text x="511" y="1484">TCR mC anti</text></g>

<!-- ===== Panel i ===== -->
<text x="820" y="1341" class="P">i</text>
<path d="M935,1350V1560H1072" class="ax"/>
<path d="M929,1560H935M929,1513H935M929,1466H935M929,1419H935M929,1372H935" class="ax"/>
<text x="926" y="1565" class="tk">0</text><text x="926" y="1518" class="tk">10</text><text x="926" y="1471" class="tk">20</text><text x="926" y="1424" class="tk">30</text><text x="926" y="1377" class="tk">40</text>
<text transform="translate(891,1468) rotate(-90)" class="L" text-anchor="middle">% m-Cherry+ cells</text>
<rect x="995" y="1395.5" width="28" height="164.5" class="br"/>
<rect x="1037" y="1402.5" width="28" height="157.5" class="br"/>
<g fill="#c8c8c8"><use href="#c" x="960" y="1560"/><use href="#c" x="967" y="1560"/><use href="#c" x="974" y="1560"/></g>
<g fill="#1a9bb5"><use href="#d" x="1009" y="1368"/><use href="#d" x="1003" y="1404"/><use href="#d" x="1016" y="1404"/></g>
<g fill="#0d5666"><use href="#m" x="1044" y="1392"/><use href="#m" x="1058" y="1392"/><use href="#m" x="1051" y="1422"/></g>
<path d="M1009,1383V1408M1004,1383H1014M1051,1390V1415M1046,1390H1056" stroke="#000" stroke-width="1.2"/>
<path d="M995,1356H1057" stroke="#000" stroke-width="1.2"/><text x="1025" y="1348" class="t" text-anchor="middle">ns</text>
<path d="M1162,1350V1560H1320" class="ax"/>
<path d="M1156,1560H1162M1156,1490H1162M1156,1420H1162M1156,1350H1162" class="ax"/>
<text x="1152" y="1565" class="tk">0</text><text x="1152" y="1495" class="tk">200</text><text x="1152" y="1425" class="tk">400</text><text x="1152" y="1355" class="tk">600</text>
<text transform="translate(1115,1457) rotate(-90)" class="L" text-anchor="middle">mCherry+ cells MFI</text>
<rect x="1234" y="1518" width="28" height="42" fill="#1a9bb5" stroke="#000"/>
<rect x="1277" y="1381.5" width="28" height="178.5" fill="#0d5666" stroke="#000"/>
<g fill="#000"><use href="#c" x="1191" y="1560"/><use href="#c" x="1198" y="1560"/><use href="#c" x="1205" y="1560"/>
<use href="#d" x="1248" y="1513"/><use href="#d" x="1240" y="1520"/><use href="#d" x="1256" y="1520"/>
<use href="#m" x="1284" y="1376"/><use href="#m" x="1300" y="1376"/><use href="#m" x="1291" y="1398"/></g>
<path d="M1248,1510V1526M1291,1373V1391M1286,1373H1296" stroke="#000" stroke-width="1.2"/>
<path d="M1234,1353H1293" stroke="#000" stroke-width="1.2"/><text x="1263" y="1353" font-size="13" fill="#0d5666" text-anchor="middle">****</text>
<g class="L"><circle cx="1342" cy="1417" r="5" fill="#c8c8c8"/><text x="1356" y="1423">UTD</text>
<polygon points="1342,1452 1348,1440 1336,1440" fill="#1a9bb5"/><text x="1356" y="1452">TCR mC sense</text>
<polygon points="1342,1467 1349,1474 1342,1481 1335,1474" fill="#0d5666"/><text x="1356" y="1480">TCR mC anti</text></g>
</svg>
</body></html>
